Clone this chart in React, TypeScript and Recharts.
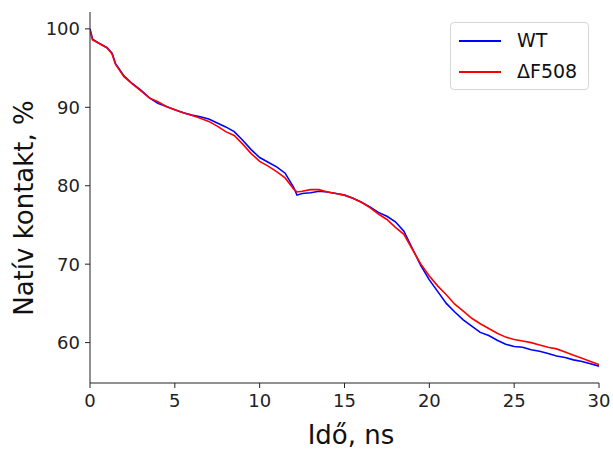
import { LineChart, Line, XAxis, YAxis, Label } from 'recharts';

// idő (ns)
const times = [
  0, 0.15, 0.5, 1, 1.3, 1.5, 2, 2.5, 3, 3.5, 4, 4.5, 5, 5.5, 6, 6.5, 7, 7.5, 8, 8.5, 9, 9.5,
  10, 10.5, 11, 11.5, 12, 12.2, 12.5, 13, 13.5, 14, 14.5, 15, 15.5, 16, 16.5, 17, 17.5, 18,
  18.5, 19, 19.5, 20, 20.5, 21, 21.5, 22, 22.5, 23, 23.5, 24, 24.5, 25, 25.5, 26, 26.5, 27,
  27.5, 28, 28.5, 29, 29.5, 30,
];

// natív kontakt (%) – WT
const wt = [
  100.0, 98.7, 98.2, 97.6, 96.9, 95.6, 94.0, 93.0, 92.2, 91.2, 90.5, 90.1, 89.7, 89.3, 89.0,
  88.8, 88.5, 88.0, 87.5, 86.9, 85.8, 84.6, 83.6, 83.0, 82.4, 81.6, 79.8, 78.8, 79.0, 79.1,
  79.3, 79.2, 79.0, 78.8, 78.4, 77.9, 77.3, 76.6, 76.1, 75.4, 74.2, 72.0, 69.8, 68.0, 66.5,
  65.0, 63.9, 62.9, 62.1, 61.3, 60.9, 60.3, 59.8, 59.5, 59.4, 59.1, 58.9, 58.6, 58.3, 58.1,
  57.8, 57.6, 57.3, 57.0,
];

// natív kontakt (%) – ΔF508
const f508 = [
  99.8, 98.6, 98.2, 97.6, 96.8, 95.5, 93.9, 93.0, 92.1, 91.2, 90.7, 90.1, 89.7, 89.3, 89.0,
  88.6, 88.2, 87.6, 86.9, 86.4, 85.3, 84.1, 83.1, 82.5, 81.8, 81.0, 79.6, 79.2, 79.3, 79.5,
  79.5, 79.2, 79.0, 78.8, 78.4, 77.9, 77.2, 76.4, 75.7, 74.7, 73.8, 71.9, 70.0, 68.5, 67.2,
  66.1, 64.9, 64.0, 63.1, 62.4, 61.8, 61.2, 60.7, 60.4, 60.2, 60.0, 59.7, 59.4, 59.2, 58.8,
  58.4, 58.0, 57.6, 57.2,
];

const xTicks = [0, 5, 10, 15, 20, 25, 30];
const yTicks = [60, 70, 80, 90, 100];

const series = [
  { key: 'wt', name: 'WT', color: '#0000ff' },
  { key: 'f508', name: 'ΔF508', color: '#ff0000' },
];

const data = times.map((t, i) => ({ t, wt: wt[i], f508: f508[i] }));

const font = 'DejaVu Sans, sans-serif';
const tickStyle = { fill: '#222', fontSize: 18, fontFamily: font };

function LegendBox() {
  return (
    <div
      style={{
        position: 'absolute',
        left: 450,
        top: 22,
        width: 139,
        boxSizing: 'border-box',
        border: '1px solid #d6d6d6',
        borderRadius: 4,
        background: '#fff',
        padding: '2px 10px 2px 8px',
        fontFamily: font,
        fontSize: 19,
        color: '#111',
        lineHeight: '31px',
      }}
    >
      {series.map((s) => (
        <div key={s.key} style={{ display: 'flex', alignItems: 'center' }}>
          <span
            style={{
              display: 'inline-block',
              width: 42,
              height: 0,
              borderTop: `2px solid ${s.color}`,
              marginRight: 16,
            }}
          />
          {s.name}
        </div>
      ))}
    </div>
  );
}

export default function App() {
  return (
    <div style={{ position: 'absolute', left: 0, top: 0, width: 613, height: 450, background: '#fff' }}>
      <LineChart
        width={613}
        height={450}
        data={data}
        margin={{ top: 12, right: 14, left: 0, bottom: 0 }}
      >
        <XAxis
          dataKey="t"
          type="number"
          domain={[0, 30]}
          ticks={xTicks}
          height={67}
          tick={tickStyle}
          tickSize={5}
          tickMargin={6}
          stroke="#222"
          allowDataOverflow
        >
          <Label
            content={() => (
              <text x={351} y={444} textAnchor="middle" fontSize={26} fontFamily={font} fill="#111">
                Idő, ns
              </text>
            )}
          />
        </XAxis>
        <YAxis
          type="number"
          domain={[54.85, 102.15]}
          ticks={yTicks}
          width={90}
          tick={tickStyle}
          tickSize={5}
          tickMargin={5}
          stroke="#222"
          allowDataOverflow
        >
          <Label
            content={() => (
              <text
                transform="translate(33,208) rotate(-90)"
                textAnchor="middle"
                fontSize={26}
                fontFamily={font}
                fill="#111"
              >
                Natív kontakt, %
              </text>
            )}
          />
        </YAxis>
        {series.map((s) => (
          <Line
            key={s.key}
            type="linear"
            dataKey={s.key}
            name={s.name}
            stroke={s.color}
            strokeWidth={1.6}
            dot={false}
            isAnimationActive={false}
          />
        ))}
      </LineChart>
      <LegendBox />
    </div>
  );
}
